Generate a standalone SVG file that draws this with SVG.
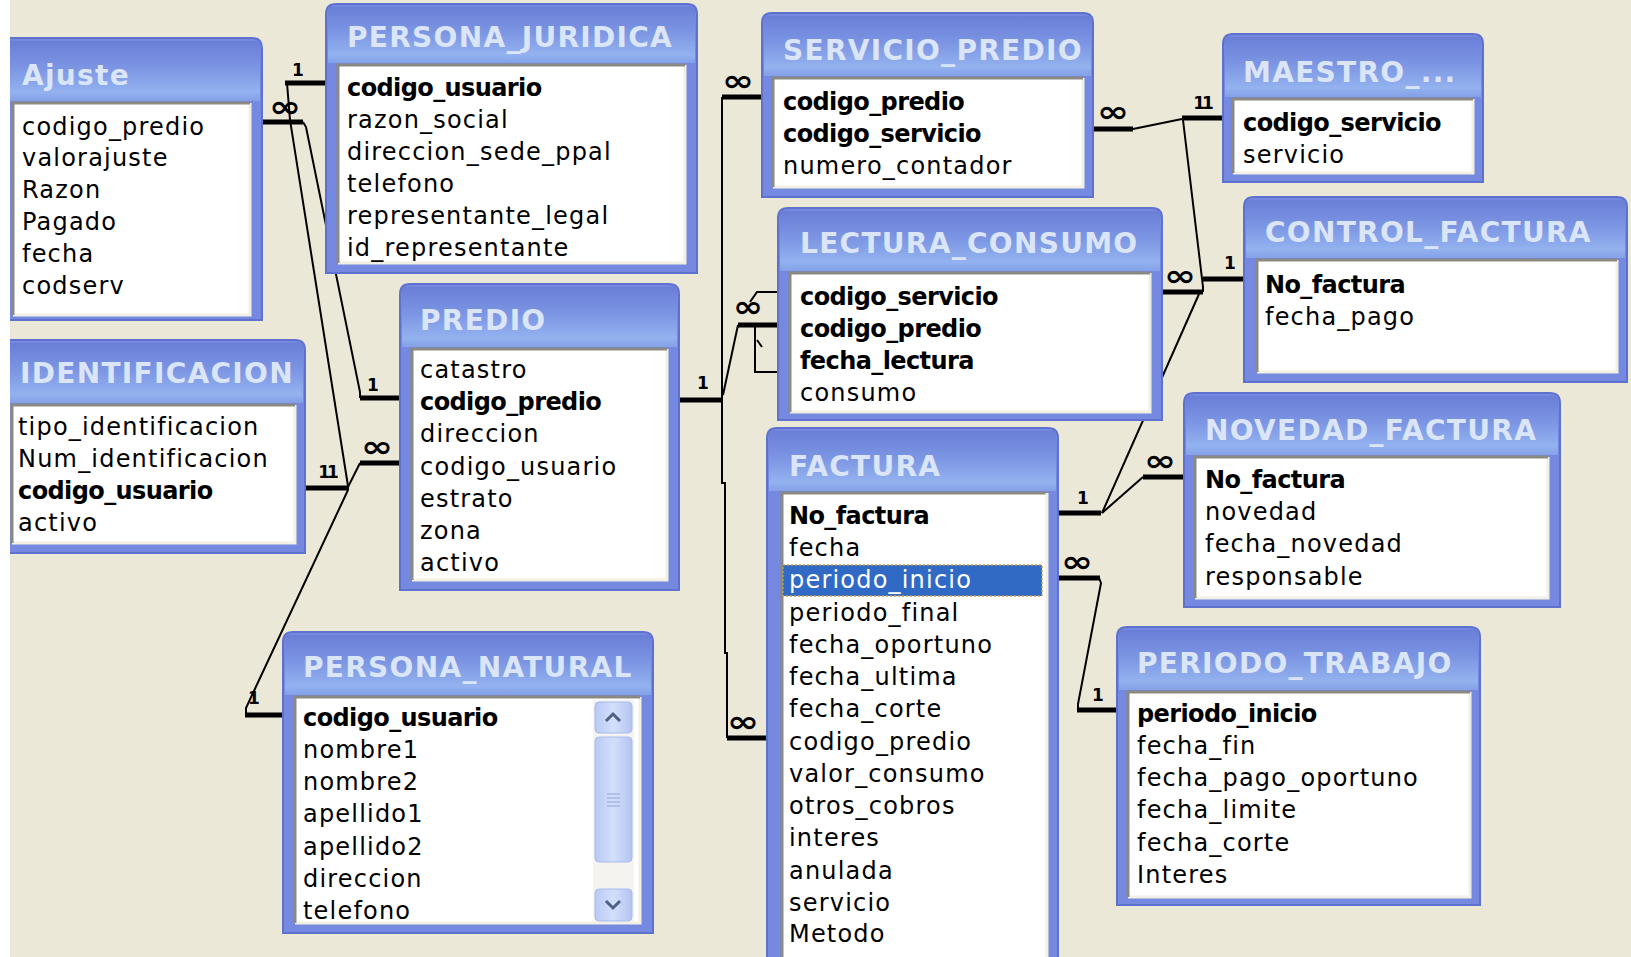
<svg xmlns="http://www.w3.org/2000/svg" width="1631" height="957" viewBox="0 0 1631 957">
<defs>
<linearGradient id="hdr" x1="0" y1="0" x2="0" y2="1">
<stop offset="0" stop-color="#6a7ed7"/>
<stop offset="0.45" stop-color="#7c95e3"/>
<stop offset="0.85" stop-color="#93b2ef"/>
<stop offset="1" stop-color="#84a0e8"/>
</linearGradient>
<linearGradient id="sb" x1="0" y1="0" x2="1" y2="0">
<stop offset="0" stop-color="#b9c9f4"/>
<stop offset="0.5" stop-color="#d3dffa"/>
<stop offset="1" stop-color="#b3c4f1"/>
</linearGradient>
<style>
.frame{fill:#7489df;stroke:#5e71cf;stroke-width:2}
.hd{fill:url(#hdr)}
.title{font-family:"DejaVu Sans",Verdana,sans-serif;font-weight:bold;font-size:28px;letter-spacing:1.3px;fill:#dbe5f8}
.list{fill:#ffffff}
.bd{fill:none;stroke:#8a8982;stroke-width:3}
.bl{fill:none;stroke:#f2f0e4;stroke-width:3}
.r{font-family:"DejaVu Sans",Verdana,sans-serif;font-size:24px;letter-spacing:1.2px;fill:#000}
.b{font-weight:bold;letter-spacing:-0.6px}
.thin{fill:none;stroke:#000;stroke-width:2}
.thick{fill:none;stroke:#000;stroke-width:5}
.one{font-family:"DejaVu Sans",sans-serif;font-weight:bold;font-size:17px;fill:#000;text-anchor:middle}
.inf{font-family:"DejaVu Sans",sans-serif;font-weight:bold;font-size:30px;fill:#000;text-anchor:middle}
</style>
</defs>
<rect x="0" y="0" width="1631" height="957" fill="#ebe8d8"/>

<g id="connectors">
<!-- Ajuste -> PREDIO -->
<path class="thick" d="M262,122 H303"/>
<path class="thin" d="M303,122 L306,127 L360,392 V398"/>
<path class="thick" d="M360,398 H400"/>
<!-- PERSONA_JURIDICA -> IDENTIFICACION -->
<path class="thick" d="M285,83 H327"/>
<path class="thin" d="M287,83 L290,120 L348,486"/>
<path class="thick" d="M305,488 H349"/>
<!-- IDENTIFICACION -> PREDIO.codigo_usuario -->
<path class="thin" d="M348,487 L360,463"/>
<path class="thick" d="M360,463 H400"/>
<!-- IDENTIFICACION -> PERSONA_NATURAL -->
<path class="thin" d="M348,490 L246,708 V715"/>
<path class="thick" d="M245,715 H283"/>
<!-- PREDIO -> SERVICIO_PREDIO / LECTURA_CONSUMO / FACTURA -->
<path class="thick" d="M679,400 H722"/>
<path class="thin" d="M722,97 V483 H725 V653 H727 V738"/>
<path class="thick" d="M722,97 H762"/>
<path class="thick" d="M727,738 H767"/>
<path class="thin" d="M723,395 L738,325"/>
<path class="thick" d="M738,325 H778"/>
<path class="thin" d="M755,325 V372 H778"/>
<path class="thin" d="M750,302 L757,292 H778"/>
<path class="thin" d="M757,340 L762,347"/>
<!-- SERVICIO_PREDIO -> MAESTRO -->
<path class="thick" d="M1093,129 H1133"/>
<path class="thin" d="M1133,129 L1182,119"/>
<path class="thick" d="M1182,118 H1223"/>
<!-- MAESTRO -> LECTURA_CONSUMO -->
<path class="thin" d="M1183,120 L1203,287 V292"/>
<path class="thick" d="M1161,292 H1203"/>
<!-- CONTROL_FACTURA <- FACTURA -->
<path class="thick" d="M1203,279 H1244"/>
<path class="thin" d="M1199,294 L1102,513"/>
<path class="thick" d="M1058,513 H1101"/>
<!-- FACTURA -> NOVEDAD_FACTURA -->
<path class="thin" d="M1102,513 L1143,477"/>
<path class="thick" d="M1143,477 H1184"/>
<!-- FACTURA -> PERIODO_TRABAJO -->
<path class="thick" d="M1058,578 H1100"/>
<path class="thin" d="M1099,578 L1101,583 L1078,704 V710"/>
<path class="thick" d="M1077,710 H1117"/>
<!-- cardinality labels -->
<text class="inf" x="285" y="117" textLength="32" lengthAdjust="spacingAndGlyphs">∞</text>
<text class="one" x="298" y="76">1</text>
<text class="one" x="373" y="391">1</text>
<text class="inf" x="377" y="457" textLength="32" lengthAdjust="spacingAndGlyphs">∞</text>
<text class="one" x="327" y="478" letter-spacing="-3">11</text>
<text class="one" x="254" y="704">1</text>
<text class="one" x="703" y="389">1</text>
<text class="inf" x="738" y="91" textLength="32" lengthAdjust="spacingAndGlyphs">∞</text>
<text class="inf" x="748" y="317" textLength="30" lengthAdjust="spacingAndGlyphs">∞</text>
<text class="inf" x="743" y="732" textLength="32" lengthAdjust="spacingAndGlyphs">∞</text>
<text class="inf" x="1113" y="122" textLength="32" lengthAdjust="spacingAndGlyphs">∞</text>
<text class="one" x="1202" y="109" letter-spacing="-3">11</text>
<text class="inf" x="1180" y="286" textLength="32" lengthAdjust="spacingAndGlyphs">∞</text>
<text class="one" x="1230" y="269">1</text>
<text class="one" x="1083" y="504">1</text>
<text class="inf" x="1160" y="471" textLength="32" lengthAdjust="spacingAndGlyphs">∞</text>
<text class="inf" x="1077" y="572" textLength="32" lengthAdjust="spacingAndGlyphs">∞</text>
<text class="one" x="1098" y="701">1</text>
</g>

<g id="ajuste">
<path class="frame" d="M1,320 V48 Q1,38 11,38 H252 Q262,38 262,48 V320 Z"/>
<rect class="hd" x="3" y="41" width="257" height="60"/>
<text class="title" x="22" y="85" letter-spacing="2">Ajuste</text>
<rect class="list" x="13" y="103" width="237" height="212"/>
<path class="bl" d="M13,315 H250 V103"/><path class="bd" d="M13,315 V103 H250"/>
<text class="r" x="22" y="135">codigo_predio</text>
<text class="r" x="22" y="166">valorajuste</text>
<text class="r" x="22" y="198">Razon</text>
<text class="r" x="22" y="230">Pagado</text>
<text class="r" x="22" y="262">fecha</text>
<text class="r" x="22" y="294">codserv</text>
</g>

<g id="persona_juridica">
<path class="frame" d="M326,273 V14 Q326,4 336,4 H687 Q697,4 697,14 V273 Z"/>
<rect class="hd" x="328" y="7" width="367" height="56"/>
<text class="title" x="347" y="47">PERSONA_JURIDICA</text>
<rect class="list" x="338" y="65" width="347" height="198"/>
<path class="bl" d="M338,263 H685 V65"/><path class="bd" d="M338,263 V65 H685"/>
<text class="r b" x="347" y="96">codigo_usuario</text>
<text class="r" x="347" y="128">razon_social</text>
<text class="r" x="347" y="160">direccion_sede_ppal</text>
<text class="r" x="347" y="192">telefono</text>
<text class="r" x="347" y="224">representante_legal</text>
<text class="r" x="347" y="256">id_representante</text>
</g>

<g id="servicio_predio">
<path class="frame" d="M762,197 V23 Q762,13 772,13 H1083 Q1093,13 1093,23 V197 Z"/>
<rect class="hd" x="764" y="16" width="327" height="60"/>
<text class="title" x="783" y="60">SERVICIO_PREDIO</text>
<rect class="list" x="773" y="78" width="310" height="109"/>
<path class="bl" d="M773,187 H1083 V78"/><path class="bd" d="M773,187 V78 H1083"/>
<text class="r b" x="783" y="110">codigo_predio</text>
<text class="r b" x="783" y="142">codigo_servicio</text>
<text class="r" x="783" y="174">numero_contador</text>
</g>

<g id="maestro">
<path class="frame" d="M1223,182 V44 Q1223,34 1233,34 H1473 Q1483,34 1483,44 V182 Z"/>
<rect class="hd" x="1225" y="37" width="256" height="60"/>
<text class="title" x="1243" y="82">MAESTRO_...</text>
<rect class="list" x="1233" y="99" width="240" height="74"/>
<path class="bl" d="M1233,173 H1473 V99"/><path class="bd" d="M1233,173 V99 H1473"/>
<text class="r b" x="1243" y="131">codigo_servicio</text>
<text class="r" x="1243" y="163">servicio</text>
</g>

<g id="lectura_consumo">
<path class="frame" d="M778,420 V218 Q778,208 788,208 H1152 Q1162,208 1162,218 V420 Z"/>
<rect class="hd" x="780" y="211" width="380" height="60"/>
<text class="title" x="800" y="253">LECTURA_CONSUMO</text>
<rect class="list" x="790" y="273" width="360" height="139"/>
<path class="bl" d="M790,412 H1150 V273"/><path class="bd" d="M790,412 V273 H1150"/>
<text class="r b" x="800" y="305">codigo_servicio</text>
<text class="r b" x="800" y="337">codigo_predio</text>
<text class="r b" x="800" y="369">fecha_lectura</text>
<text class="r" x="800" y="401">consumo</text>
</g>

<g id="control_factura">
<path class="frame" d="M1244,382 V207 Q1244,197 1254,197 H1617 Q1627,197 1627,207 V382 Z"/>
<rect class="hd" x="1246" y="200" width="379" height="58"/>
<text class="title" x="1265" y="242">CONTROL_FACTURA</text>
<rect class="list" x="1257" y="260" width="360" height="112"/>
<path class="bl" d="M1257,372 H1617 V260"/><path class="bd" d="M1257,372 V260 H1617"/>
<text class="r b" x="1265" y="293">No_factura</text>
<text class="r" x="1265" y="325">fecha_pago</text>
</g>

<g id="identificacion">
<path class="frame" d="M1,553 V350 Q1,340 11,340 H295 Q305,340 305,350 V553 Z"/>
<rect class="hd" x="3" y="343" width="300" height="60"/>
<text class="title" x="20" y="383">IDENTIFICACION</text>
<rect class="list" x="12" y="405" width="283" height="138"/>
<path class="bl" d="M12,543 H295 V405"/><path class="bd" d="M12,543 V405 H295"/>
<text class="r" x="18" y="435">tipo_identificacion</text>
<text class="r" x="18" y="467">Num_identificacion</text>
<text class="r b" x="18" y="499">codigo_usuario</text>
<text class="r" x="18" y="531">activo</text>
</g>

<g id="predio">
<path class="frame" d="M400,590 V294 Q400,284 410,284 H669 Q679,284 679,294 V590 Z"/>
<rect class="hd" x="402" y="287" width="275" height="60"/>
<text class="title" x="420" y="330">PREDIO</text>
<rect class="list" x="412" y="349" width="255" height="231"/>
<path class="bl" d="M412,580 H667 V349"/><path class="bd" d="M412,580 V349 H667"/>
<text class="r" x="420" y="378">catastro</text>
<text class="r b" x="420" y="410">codigo_predio</text>
<text class="r" x="420" y="442">direccion</text>
<text class="r" x="420" y="475">codigo_usuario</text>
<text class="r" x="420" y="507">estrato</text>
<text class="r" x="420" y="539">zona</text>
<text class="r" x="420" y="571">activo</text>
</g>

<g id="factura">
<path class="frame" d="M767,970 V438 Q767,428 777,428 H1048 Q1058,428 1058,438 V970 Z"/>
<rect class="hd" x="769" y="431" width="287" height="60"/>
<text class="title" x="789" y="476">FACTURA</text>
<rect class="list" x="782" y="493" width="265" height="480"/>
<path class="bd" d="M782,973 V493 H1047"/><path class="bl" d="M1047,493 V973"/>
<text class="r b" x="789" y="524">No_factura</text>
<text class="r" x="789" y="556">fecha</text>
<rect x="783" y="565" width="259" height="31" fill="#316ac5" stroke="#c8a040" stroke-width="1.5" stroke-dasharray="2 2"/>
<text class="r" x="789" y="588" style="fill:#ffffff">periodo_inicio</text>
<text class="r" x="789" y="621">periodo_final</text>
<text class="r" x="789" y="653">fecha_oportuno</text>
<text class="r" x="789" y="685">fecha_ultima</text>
<text class="r" x="789" y="717">fecha_corte</text>
<text class="r" x="789" y="750">codigo_predio</text>
<text class="r" x="789" y="782">valor_consumo</text>
<text class="r" x="789" y="814">otros_cobros</text>
<text class="r" x="789" y="846">interes</text>
<text class="r" x="789" y="879">anulada</text>
<text class="r" x="789" y="911">servicio</text>
<text class="r" x="789" y="942">Metodo</text>
</g>

<g id="novedad_factura">
<path class="frame" d="M1184,607 V403 Q1184,393 1194,393 H1550 Q1560,393 1560,403 V607 Z"/>
<rect class="hd" x="1186" y="396" width="372" height="59"/>
<text class="title" x="1205" y="440">NOVEDAD_FACTURA</text>
<rect class="list" x="1195" y="457" width="353" height="141"/>
<path class="bl" d="M1195,598 H1548 V457"/><path class="bd" d="M1195,598 V457 H1548"/>
<text class="r b" x="1205" y="488">No_factura</text>
<text class="r" x="1205" y="520">novedad</text>
<text class="r" x="1205" y="552">fecha_novedad</text>
<text class="r" x="1205" y="585">responsable</text>
</g>

<g id="persona_natural">
<path class="frame" d="M283,933 V642 Q283,632 293,632 H643 Q653,632 653,642 V933 Z"/>
<rect class="hd" x="285" y="635" width="366" height="60"/>
<text class="title" x="303" y="677">PERSONA_NATURAL</text>
<rect class="list" x="295" y="697" width="345" height="226"/>
<path class="bl" d="M295,923 H640 V697"/><path class="bd" d="M295,923 V697 H640"/>
<text class="r b" x="303" y="726">codigo_usuario</text>
<text class="r" x="303" y="758">nombre1</text>
<text class="r" x="303" y="790">nombre2</text>
<text class="r" x="303" y="822">apellido1</text>
<text class="r" x="303" y="855">apellido2</text>
<text class="r" x="303" y="887">direccion</text>
<text class="r" x="303" y="919">telefono</text>
<rect x="593" y="700" width="41" height="222" fill="#f4f3ef"/>
<rect x="595" y="702" width="37" height="31" rx="4" fill="url(#sb)" stroke="#a8bbee"/>
<path d="M606,721 L613,714 L620,721" fill="none" stroke="#4d6185" stroke-width="3"/>
<rect x="595" y="737" width="37" height="125" rx="4" fill="url(#sb)" stroke="#a8bbee"/>
<path d="M607,794 H620 M607,798 H620 M607,802 H620 M607,806 H620" stroke="#8fa5e0" stroke-width="1"/>
<rect x="595" y="889" width="37" height="32" rx="4" fill="url(#sb)" stroke="#a8bbee"/>
<path d="M606,901 L613,908 L620,901" fill="none" stroke="#4d6185" stroke-width="3"/>
</g>

<g id="periodo_trabajo">
<path class="frame" d="M1117,905 V637 Q1117,627 1127,627 H1470 Q1480,627 1480,637 V905 Z"/>
<rect class="hd" x="1119" y="630" width="359" height="60"/>
<text class="title" x="1137" y="673">PERIODO_TRABAJO</text>
<rect class="list" x="1128" y="692" width="342" height="205"/>
<path class="bl" d="M1128,897 H1470 V692"/><path class="bd" d="M1128,897 V692 H1470"/>
<text class="r b" x="1137" y="722">periodo_inicio</text>
<text class="r" x="1137" y="754">fecha_fin</text>
<text class="r" x="1137" y="786">fecha_pago_oportuno</text>
<text class="r" x="1137" y="818">fecha_limite</text>
<text class="r" x="1137" y="851">fecha_corte</text>
<text class="r" x="1137" y="883">Interes</text>
</g>

<rect x="0" y="0" width="10" height="957" fill="#ffffff"/>
</svg>
